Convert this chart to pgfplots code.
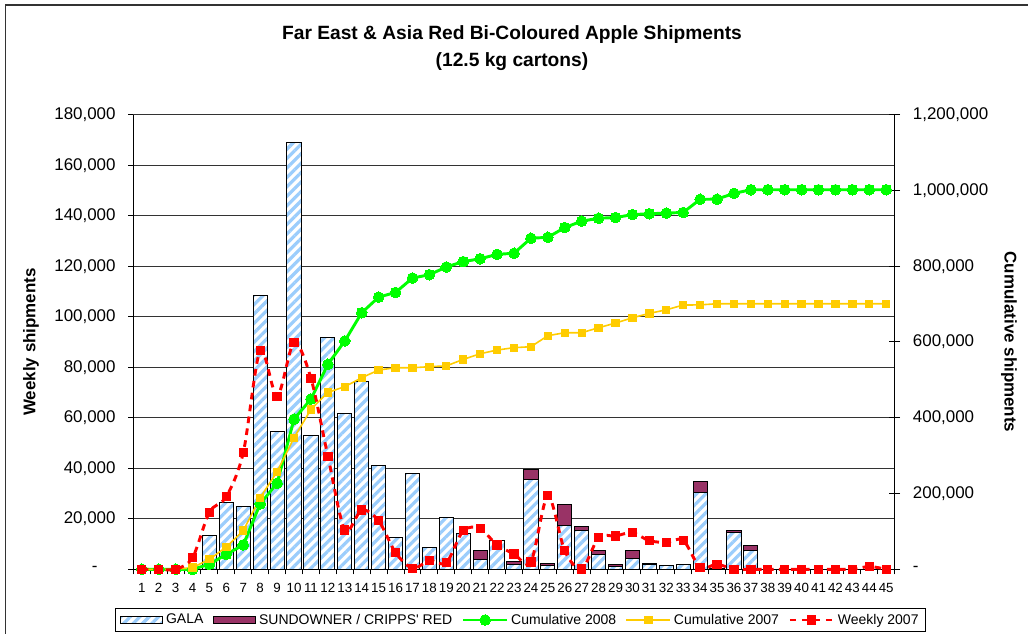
\documentclass[border=0pt]{standalone}
\usepackage{fontspec}
\setmainfont{Liberation Sans}
\usepackage{pgfplots}
\usepackage{pgfplotstable}
\pgfplotsset{compat=1.18}
\usetikzlibrary{patterns.meta}
\definecolor{galablue}{RGB}{155,205,252}
\definecolor{sund}{RGB}{153,51,102}
\definecolor{cgreen}{RGB}{0,255,0}
\definecolor{cyellow}{RGB}{255,204,0}
\definecolor{cred}{RGB}{255,0,0}

\pgfplotstableread{
week gala sund cum08 cum07 wk07
1 0 0 0 0 0
2 0 0 0 0 0
3 0 0 0 0 0
4 0 0 0 4400 4600
5 13200 0 13200 26400 22600
6 26400 0 39600 58900 28800
7 24800 0 64400 102000 46200
8 108400 0 172800 189000 86700
9 54600 0 227400 257700 68500
10 169000 0 396400 347400 89800
11 52900 0 449300 422000 75600
12 91800 0 541100 467000 44800
13 61600 0 602700 482000 15600
14 74500 0 677200 505800 23500
15 41200 0 718400 526000 19200
16 12500 0 730900 532000 6600
17 37900 0 768800 532000 400
18 8800 0 777600 534800 3400
19 20400 0 798000 537000 2600
20 14200 0 812200 554000 15300
21 4000 3500 819700 569000 16100
22 11600 0 831300 578800 9600
23 2000 1000 834300 585000 6100
24 35600 4000 873900 587600 2900
25 1500 900 876300 616600 29100
26 17500 8200 902000 624500 7300
27 15300 1700 919000 624500 100
28 5900 1700 926600 637700 12500
29 1200 800 928600 650000 13200
30 4200 3400 936200 664000 14500
31 2000 400 938600 675500 11300
32 1600 0 940200 685000 10700
33 1800 0 942000 697500 11500
34 30300 4300 976600 698000 700
35 400 100 977100 701000 2000
36 14700 500 992300 701000 0
37 7600 2000 1001900 701000 0
38 0 0 1001900 701000 0
39 0 0 1001900 701000 0
40 0 0 1001900 701000 0
41 0 0 1001900 701000 0
42 0 0 1001900 701000 0
43 0 0 1001900 701000 0
44 0 0 1001900 701000 1100
45 0 0 1001900 701000 0
}\data

\tikzset{
  galastyle/.style={draw=black, line width=0.75pt,
    preaction={fill=white},
    preaction={pattern={Lines[angle=45,distance=5pt,line width=2.4pt]}, pattern color=galablue}},
  sundstyle/.style={draw=black, line width=0.75pt, fill=sund},
  greenstyle/.style={cgreen, line width=2.2pt, mark=*, mark size=4pt,
    mark options={solid, fill=cgreen, draw=cgreen, line width=0pt}},
  yellowstyle/.style={cyellow, line width=1.2pt, mark=square*, mark size=2.75pt,
    mark options={solid, fill=cyellow, draw=cyellow, line width=0pt}},
  redstyle/.style={cred, line width=2.2pt, dash pattern=on 5pt off 4pt, mark=square*, mark size=3.1pt,
    mark options={solid, fill=cred, draw=cred, line width=0pt}},
}

\pgfplotsset{
  base/.style={
    at={(99.975pt,-426.975pt)}, anchor=south west,
    scale only axis, width=571.05pt, height=340.95pt,
    xmin=0.5, xmax=45.5,
    /pgf/number format/assume math mode=true,
    scaled y ticks=false,
  },
  barleg/.style={legend image code/.code={\draw[##1] (0pt,-2.7pt) rectangle (32pt,2.7pt);}},
}

\begin{document}
\begin{tikzpicture}
\path[use as bounding box] (0,0) rectangle (771pt,-475.5pt);
\clip (0,0) rectangle (771pt,-475.5pt);
\draw[black!80, line width=0.8pt] (4.3pt,-3.75pt) rectangle (800pt,-500pt);

\node[font=\fontsize{14.4}{17}\selectfont\bfseries] at (384pt,-26.25pt) {Far East \& Asia Red Bi-Coloured Apple Shipments};
\node[font=\fontsize{14.4}{17}\selectfont\bfseries] at (384pt,-46.5pt) {(12.5 kg cartons)};
\node[font=\fontsize{12.7}{15}\selectfont\bfseries, rotate=90] at (23.25pt,-256.5pt) {Weekly shipments};
\node[font=\fontsize{12.7}{15}\selectfont\bfseries, rotate=-90] at (756.75pt,-256.5pt) {Cumulative shipments};

% Axis A: bars, left axis
\begin{axis}[base,
  ymin=0, ymax=180000,
  axis x line*=bottom, axis y line*=left,
  axis line style={line width=0.9pt, black},
  ytick={0,20000,40000,60000,80000,100000,120000,140000,160000,180000},
  yticklabels={{-\kern13.5pt},{20,000},{40,000},{60,000},{80,000},{100,000},{120,000},{140,000},{160,000},{180,000}},
  yticklabel style={font=\fontsize{12.7}{15}\selectfont, xshift=-6pt},
  ymajorgrids, grid style={black!80, line width=0.6pt},
  xtick={1,...,45},
  minor xtick={0.5,1.5,...,45.5},
  major x tick style={draw=none},
  xticklabel style={font=\fontsize{10}{12}\selectfont, yshift=-3.5pt},
  tick align=outside, major tick length=3.75pt, minor tick length=3.75pt,
  tick style={black, line width=0.75pt},
  ybar stacked, bar width=0.84,
]
\addplot[galastyle] table[x=week,y=gala]{\data};
\addplot[sundstyle] table[x=week,y=sund]{\data};
\end{axis}

% Axis B: cumulative, right axis
\begin{axis}[base,
  ymin=0, ymax=1200000,
  axis y line*=right, axis x line=none,
  axis line style={line width=0.9pt, black},
  clip=false,
  ytick={0,200000,400000,600000,800000,1000000,1200000},
  yticklabels={{-},{200,000},{400,000},{600,000},{800,000},{1,000,000},{1,200,000}},
  yticklabel style={font=\fontsize{12.7}{15}\selectfont, xshift=6pt},
  tick align=center, major tick length=8.25pt,
  tick style={black, line width=0.75pt},
]
\addplot[greenstyle] table[x=week,y=cum08]{\data};
\addplot[yellowstyle] table[x=week,y=cum07]{\data};
\end{axis}

% Axis C: weekly 2007 + legend
\begin{axis}[base,
  ymin=0, ymax=180000,
  hide axis, clip=false,
  legend columns=5,
  legend image code/.code={\draw[mark repeat=2,mark phase=2,#1] plot coordinates {(0pt,0pt) (16.5pt,0pt) (33pt,0pt)};},
  legend style={at={(0.5085,-0.1115)}, anchor=center, draw=black, line width=0.75pt,
    font=\fontsize{10.5}{12}\selectfont, inner xsep=3pt, inner ysep=2pt,
    /tikz/every even column/.append style={column sep=5pt}},
]
\addlegendimage{galastyle, barleg}
\addlegendentry{GALA}
\addlegendimage{sundstyle, barleg}
\addlegendentry{SUNDOWNER / CRIPPS\textquotesingle\ RED}
\addlegendimage{greenstyle}
\addlegendentry{Cumulative 2008}
\addlegendimage{yellowstyle}
\addlegendentry{Cumulative 2007}
\addplot[redstyle, smooth] table[x=week,y=wk07]{\data};
\addlegendentry{Weekly 2007}
\end{axis}
\end{tikzpicture}
\end{document}
